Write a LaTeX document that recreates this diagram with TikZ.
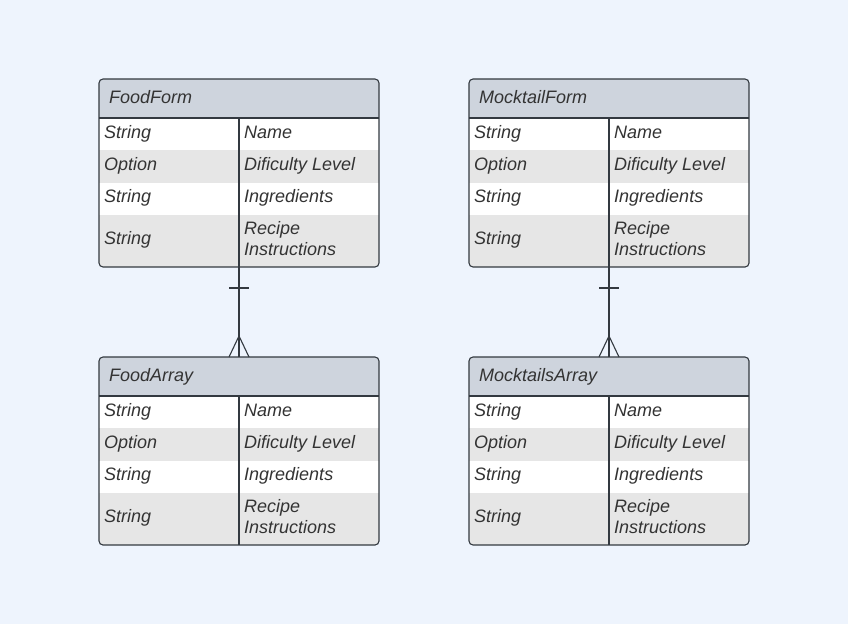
\documentclass[tikz,border=0pt]{standalone}
\usepackage{fontspec}
\setmainfont{Liberation Sans}
\usetikzlibrary{positioning}
\definecolor{bgblue}{HTML}{EEF4FD}
\definecolor{headfill}{HTML}{CED4DD}
\definecolor{rowfill}{HTML}{E6E6E6}
\definecolor{inkgray}{HTML}{333940}
\definecolor{textgray}{HTML}{333333}
\tikzset{
  line/.style={draw=inkgray,line width=1.1pt},
  tablebox/.style={line,rounded corners=4pt,minimum width=280pt,minimum height=188pt,inner sep=0pt,outer sep=0pt},
  lbl/.style={anchor=base west,inner sep=0pt,text=textgray,font=\fontsize{18}{21}\selectfont\itshape}
}
% one entity table: id, top-left corner, title
\newcommand{\ertable}[3]{%
\begin{scope}[shift={#2}]
  \begin{scope}
    \clip[rounded corners=4pt] (0,0) rectangle (280,188);
    \fill[headfill] (0,0) rectangle (280,39);
    \fill[white] (0,39) rectangle (280,71);
    \fill[rowfill] (0,71) rectangle (280,104);
    \fill[white] (0,104) rectangle (280,136);
    \fill[rowfill] (0,136) rectangle (280,188);
  \end{scope}
  \node[tablebox] (#1) at (140,94) {};
  \draw[line] (0,39) -- (280,39);
  \draw[line] (140,39) -- (140,188);
  \node[lbl] (#1-title) at (10,24) {#3};
  \foreach \y/\t/\n [count=\i] in {59.5/String/Name,91.5/Option/Dificulty Level,123.5/String/Ingredients}{
    \node[lbl] (#1-t\i) at (5,\y) {\t};
    \node[lbl] (#1-n\i) at (145,\y) {\n};
  }
  \node[lbl] (#1-t4) at (5,165.5) {String};
  \node[lbl,anchor=west,align=left] (#1-n4) at (145,160) {Recipe\\Instructions};
\end{scope}}
\begin{document}
\begin{tikzpicture}[x=1pt,y=-1pt]
\fill[bgblue] (0,0) rectangle (848,624);
\useasboundingbox (0,0) rectangle (848,624);
\ertable{ff}{(99,79)}{FoodForm}
\ertable{mf}{(469,79)}{MocktailForm}
\ertable{fa}{(99,357)}{FoodArray}
\ertable{ma}{(469,357)}{MocktailsArray}
% one to many links
\foreach \a/\b in {ff/fa,mf/ma}{
  \draw[line] (\a) -- (\b);
  \draw[line] ([xshift=-10pt,yshift=-21pt]\a.south) -- ([xshift=10pt,yshift=-21pt]\a.south);
  \draw[line] ([xshift=-10pt]\b.north) -- ([yshift=21pt]\b.north) -- ([xshift=10pt]\b.north);
}
\end{tikzpicture}
\end{document}
